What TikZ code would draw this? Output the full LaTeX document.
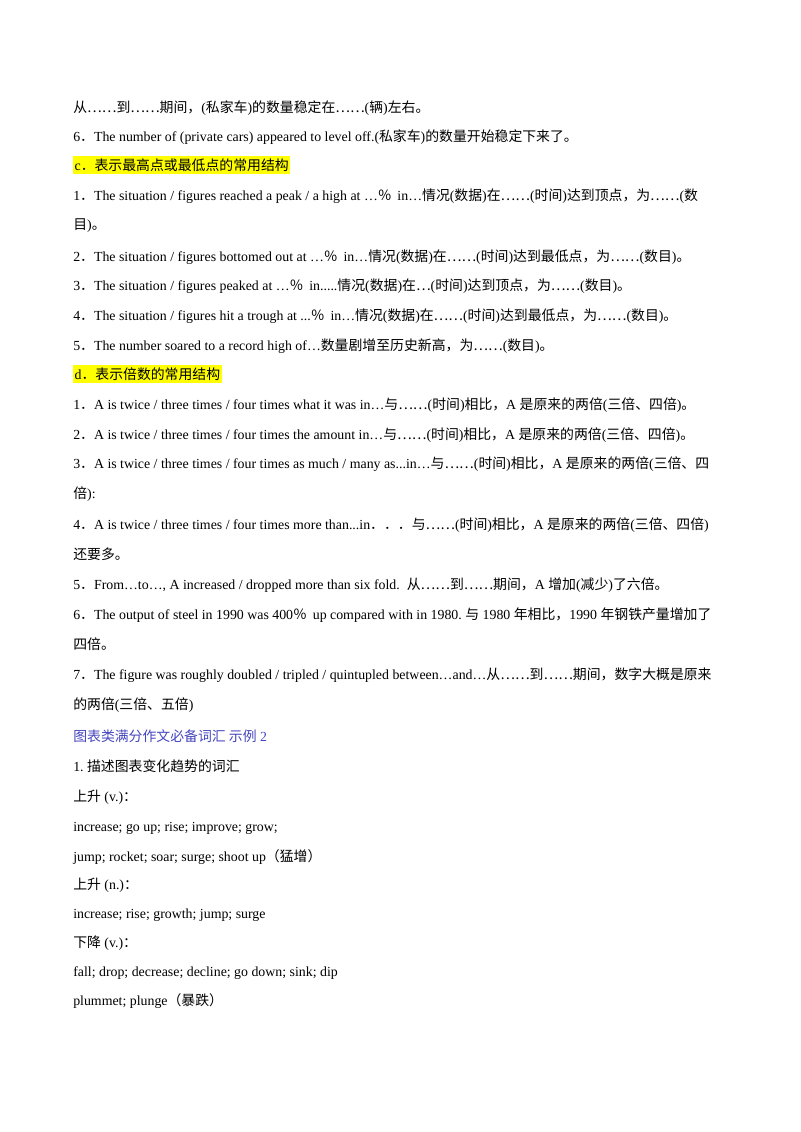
\documentclass[tikz,border=0pt]{standalone}
\usepackage{fontspec}
\setmainfont{Liberation Serif}
\newfontfamily\cjk{Noto Sans CJK SC}
\newcommand\C[1]{{\cjk #1}}
\newcommand\Sl{\ /\ }
\definecolor{hl}{RGB}{255,255,0}
\definecolor{bl}{RGB}{70,70,190}
\begin{document}
\begin{tikzpicture}[x=0.75pt,y=-0.75pt,
  ln/.style={anchor=base west,inner sep=0pt,font=\fontsize{10.4pt}{12pt}\selectfont},
  hd/.style={ln,fill=hl,inner ysep=2pt,inner xsep=1pt}]
\useasboundingbox (0,0) rectangle (800,1132);
\fill[white] (0,0) rectangle (800,1132);
\node[ln] (l1) at (73,112) {\C{从……到……期间，}(\C{私家车})\C{的数量稳定在……}(\C{辆})\C{左右。}};
\node[ln] (l2) at (73,141) {6\C{．}The number of (private cars) appeared to level off.(\C{私家车})\C{的数量开始稳定下来了。}};
\node[hd] (h1) at (73,170) {c\C{．表示最高点或最低点的常用结构}};
\node[ln] (l3) at (73,200) {1\C{．}The situation\Sl figures reached a peak\Sl a high at …\C{％}\, in…\C{情况}(\C{数据})\C{在……}(\C{时间})\C{达到顶点，为……}(\C{数}};
\node[ln] (l4) at (73,229) {\C{目})\C{。}};
\node[ln] (l5) at (73,261) {2\C{．}The situation\Sl figures bottomed out at …\C{％}\, in…\C{情况}(\C{数据})\C{在……}(\C{时间})\C{达到最低点，为……}(\C{数目})\C{。}};
\node[ln] (l6) at (73,290) {3\C{．}The situation\Sl figures peaked at …\C{％}\, in.....\C{情况}(\C{数据})\C{在…}(\C{时间})\C{达到顶点，为……}(\C{数目})\C{。}};
\node[ln] (l7) at (73,320) {4\C{．}The situation\Sl figures hit a trough at ...\C{％}\, in…\C{情况}(\C{数据})\C{在……}(\C{时间})\C{达到最低点，为……}(\C{数目})\C{。}};
\node[ln] (l8) at (73,350) {5\C{．}The number soared to a record high of…\C{数量剧增至历史新高，为……}(\C{数目})\C{。}};
\node[hd] (h2) at (73,379) {d\C{．表示倍数的常用结构}};
\node[ln] (m1) at (73,409) {1\C{．}A is twice\Sl three times\Sl four times what it was in…\C{与……}(\C{时间})\C{相比，}A \C{是原来的两倍}(\C{三倍、四倍})\C{。}};
\node[ln] (m2) at (73,439) {2\C{．}A is twice\Sl three times\Sl four times the amount in…\C{与……}(\C{时间})\C{相比，}A \C{是原来的两倍}(\C{三倍、四倍})\C{。}};
\node[ln] (m3) at (73,468) {3\C{．}A is twice\Sl three times\Sl four times as much\Sl many as...in…\C{与……}(\C{时间})\C{相比，}A \C{是原来的两倍}(\C{三倍、四}};
\node[ln] (m4) at (73,498) {\C{倍}):};
\node[ln] (m5) at (73,529) {4\C{．}A is twice\Sl three times\Sl four times more than...in\C{．．．与……}(\C{时间})\C{相比，}A \C{是原来的两倍}(\C{三倍、四倍})};
\node[ln] (m6) at (73,559) {\C{还要多。}};
\node[ln] (m7) at (73,589) {5\C{．}From…to…, A increased\Sl dropped more than six fold.\ \ \C{从……到……期间，}A \C{增加}(\C{减少})\C{了六倍。}};
\node[ln] (m8) at (73,619) {6\C{．}The output of steel in 1990 was 400\C{％}\, up compared with in 1980.\ \C{与} 1980 \C{年相比，}1990 \C{年钢铁产量增加了}};
\node[ln] (m9) at (73,649) {\C{四倍。}};
\node[ln] (m10) at (73,679) {7\C{．}The figure was roughly doubled\Sl tripled\Sl quintupled between…and…\C{从……到……期间，数字大概是原来}};
\node[ln] (m11) at (73,709) {\C{的两倍}(\C{三倍、五倍})};
\node[ln,text=bl] (b1) at (73,741) {\C{图表类满分作文必备词汇\ 示例} 2};
\node[ln] (v1) at (73,771) {1.\ \C{描述图表变化趋势的词汇}};
\node[ln] (v2) at (73,801) {\C{上升}\ (v.)\C{：}};
\node[ln] (v3) at (73,831) {increase; go up; rise; improve; grow;};
\node[ln] (v4) at (73,861) {jump; rocket; soar; surge; shoot up\C{（猛增）}};
\node[ln] (v5) at (73,889) {\C{上升}\ (n.)\C{：}};
\node[ln] (v6) at (73,918) {increase; rise; growth; jump; surge};
\node[ln] (v7) at (73,947) {\C{下降}\ (v.)\C{：}};
\node[ln] (v8) at (73,976) {fall; drop; decrease; decline; go down; sink; dip};
\node[ln] (v9) at (73,1005) {plummet; plunge\C{（暴跌）}};
\end{tikzpicture}
\end{document}
